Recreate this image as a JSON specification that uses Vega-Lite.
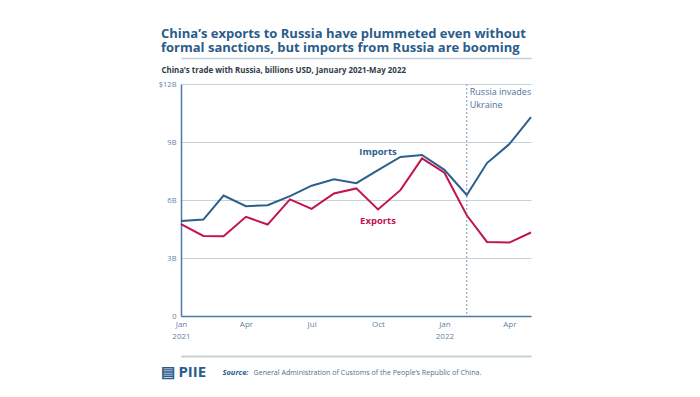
{
  "$schema": "https://vega.github.io/schema/vega-lite/v6.json",
  "width": 350,
  "height": 232,
  "autosize": "none",
  "padding": {"left": 181, "top": 84, "right": 169, "bottom": 81},
  "background": "white",
  "title": {
    "text": ["China’s exports to Russia have plummeted even without", "formal sanctions, but imports from Russia are booming"],
    "anchor": "start",
    "frame": "group",
    "dx": -20,
    "offset": 3,
    "font": "Open Sans",
    "fontSize": 13,
    "fontWeight": "bold",
    "color": "#2b5c8a",
    "lineHeight": 14.5
  },
  "datasets": {
    "trade": [
      {"date": "2021/01/01", "series": "Imports", "value": 4.92},
      {"date": "2021/02/01", "series": "Imports", "value": 4.99},
      {"date": "2021/03/01", "series": "Imports", "value": 6.23},
      {"date": "2021/04/01", "series": "Imports", "value": 5.68},
      {"date": "2021/05/01", "series": "Imports", "value": 5.73},
      {"date": "2021/06/01", "series": "Imports", "value": 6.2},
      {"date": "2021/07/01", "series": "Imports", "value": 6.74},
      {"date": "2021/08/01", "series": "Imports", "value": 7.07},
      {"date": "2021/09/01", "series": "Imports", "value": 6.87},
      {"date": "2021/10/01", "series": "Imports", "value": 7.55},
      {"date": "2021/11/01", "series": "Imports", "value": 8.23},
      {"date": "2021/12/01", "series": "Imports", "value": 8.33},
      {"date": "2022/01/01", "series": "Imports", "value": 7.56},
      {"date": "2022/02/01", "series": "Imports", "value": 6.26},
      {"date": "2022/03/01", "series": "Imports", "value": 7.91},
      {"date": "2022/04/01", "series": "Imports", "value": 8.89},
      {"date": "2022/05/01", "series": "Imports", "value": 10.29},
      {"date": "2021/01/01", "series": "Exports", "value": 4.75},
      {"date": "2021/02/01", "series": "Exports", "value": 4.14},
      {"date": "2021/03/01", "series": "Exports", "value": 4.13},
      {"date": "2021/04/01", "series": "Exports", "value": 5.13},
      {"date": "2021/05/01", "series": "Exports", "value": 4.73},
      {"date": "2021/06/01", "series": "Exports", "value": 6.03},
      {"date": "2021/07/01", "series": "Exports", "value": 5.54},
      {"date": "2021/08/01", "series": "Exports", "value": 6.34},
      {"date": "2021/09/01", "series": "Exports", "value": 6.6},
      {"date": "2021/10/01", "series": "Exports", "value": 5.51},
      {"date": "2021/11/01", "series": "Exports", "value": 6.51},
      {"date": "2021/12/01", "series": "Exports", "value": 8.15},
      {"date": "2022/01/01", "series": "Exports", "value": 7.41},
      {"date": "2022/02/01", "series": "Exports", "value": 5.21},
      {"date": "2022/03/01", "series": "Exports", "value": 3.83},
      {"date": "2022/04/01", "series": "Exports", "value": 3.8},
      {"date": "2022/05/01", "series": "Exports", "value": 4.32}
    ],
    "events": [
      {"date": "2022/02/01", "label": "Russia invades\nUkraine"}
    ],
    "labels": [
      {"date": "2021/10/01", "series": "Imports", "value": 8.48},
      {"date": "2021/10/01", "series": "Exports", "value": 4.91}
    ]
  },
  "resolve": {"axis": {"x": "independent"}},
  "layer": [
    {
      "data": {"name": "trade"},
      "mark": {"type": "line", "strokeWidth": 2, "strokeJoin": "miter"},
      "encoding": {
        "x": {
          "field": "date",
          "type": "temporal",
          "scale": {"domain": [{"year": 2021, "month": 1, "date": 1}, {"year": 2022, "month": 5, "date": 1}], "nice": false},
          "axis": {
            "orient": "bottom",
            "values": [
              {"year": 2021, "month": 1, "date": 1},
              {"year": 2021, "month": 4, "date": 1},
              {"year": 2021, "month": 7, "date": 1},
              {"year": 2021, "month": 10, "date": 1},
              {"year": 2022, "month": 1, "date": 1},
              {"year": 2022, "month": 4, "date": 1}
            ],
            "labelExpr": "month(datum.value) == 0 ? [timeFormat(datum.value, '%b'), timeFormat(datum.value, '%Y')] : timeFormat(datum.value, '%b')",
            "ticks": false,
            "grid": false,
            "domainColor": "#4d7aa3",
            "domainWidth": 1.5,
            "labelColor": "#5f84a6",
            "labelFont": "Open Sans",
            "labelFontSize": 8,
            "labelPadding": 4,
            "labelLineHeight": 12,
            "labelFlush": false,
            "title": "▤ PIIE",
            "titleX": -21,
            "titleY": 60.5,
            "titleAlign": "left",
            "titleBaseline": "alphabetic",
            "titleFont": "Open Sans",
            "titleFontSize": 15,
            "titleFontWeight": "bold",
            "titleColor": "#2b5c8a"
          }
        },
        "y": {
          "field": "value",
          "type": "quantitative",
          "scale": {"domain": [0, 12], "nice": false},
          "axis": {
            "values": [0, 3, 6, 9, 12],
            "labelExpr": "datum.value == 12 ? '$12B' : datum.value == 0 ? '0' : datum.value + 'B'",
            "ticks": false,
            "grid": true,
            "gridColor": "#c5d3df",
            "gridWidth": 1.2,
            "domain": true,
            "domainColor": "#4d7aa3",
            "domainWidth": 1.5,
            "labelColor": "#5f84a6",
            "labelFont": "Open Sans",
            "labelFontSize": 7.5,
            "labelPadding": 5,
            "title": "Source:",
            "titleAngle": 0,
            "titleX": 41,
            "titleY": 290,
            "titleAlign": "left",
            "titleBaseline": "alphabetic",
            "titleFont": "Open Sans",
            "titleFontSize": 7.5,
            "titleFontWeight": "bold",
            "titleFontStyle": "italic",
            "titleColor": "#2b5c8a"
          }
        },
        "color": {
          "field": "series",
          "type": "nominal",
          "scale": {"domain": ["Imports", "Exports"], "range": ["#2b5f8c", "#c2134f"]},
          "legend": null
        }
      }
    },
    {
      "data": {"name": "events"},
      "mark": {"type": "rule", "color": "#7b98b4", "strokeWidth": 1, "strokeDash": [2, 2]},
      "encoding": {
        "x": {
          "field": "date",
          "type": "temporal",
          "axis": {
            "orient": "top",
            "offset": 26,
            "domain": true,
            "labels": false,
            "ticks": false,
            "grid": false,
            "domainColor": "#c3ced8",
            "domainWidth": 1.5,
            "title": "China’s trade with Russia, billions USD, January 2021-May 2022",
            "titleX": -20,
            "titleY": 14.5,
            "titleAlign": "left",
            "titleBaseline": "alphabetic",
            "titleFont": "Open Sans",
            "titleFontSize": 7.9,
            "titleFontWeight": "bold",
            "titleColor": "#2f3c48"
          }
        }
      }
    },
    {
      "data": {"name": "events"},
      "mark": {"type": "text", "align": "left", "baseline": "top", "dx": 3, "dy": 4, "lineBreak": "\n", "lineHeight": 13, "font": "Open Sans", "fontSize": 9, "color": "#4f7398"},
      "encoding": {
        "x": {
          "field": "date",
          "type": "temporal",
          "axis": {
            "orient": "bottom",
            "offset": 40,
            "domain": true,
            "labels": false,
            "ticks": false,
            "grid": false,
            "domainColor": "#c3ced8",
            "domainWidth": 1.5,
            "title": "General Administration of Customs of the People’s Republic of China.",
            "titleX": 72,
            "titleY": 18.5,
            "titleAlign": "left",
            "titleBaseline": "alphabetic",
            "titleFont": "Open Sans",
            "titleFontSize": 7.1,
            "titleFontWeight": "normal",
            "titleColor": "#4f6f8f"
          }
        },
        "y": {"datum": 12, "type": "quantitative"},
        "text": {"field": "label"}
      }
    },
    {
      "data": {"name": "labels"},
      "mark": {"type": "text", "align": "center", "baseline": "middle", "font": "Open Sans", "fontSize": 9.5, "fontWeight": "bold"},
      "encoding": {
        "x": {
          "field": "date",
          "type": "temporal",
          "axis": {
            "orient": "bottom",
            "offset": 40,
            "domain": true,
            "labels": false,
            "ticks": false,
            "grid": false,
            "domainColor": "#c3ced8",
            "domainWidth": 1.5,
            "title": null
          }
        },
        "y": {"field": "value", "type": "quantitative"},
        "text": {"field": "series"},
        "color": {"field": "series", "type": "nominal", "legend": null}
      }
    }
  ],
  "config": {
    "view": {"stroke": null}
  }
}
